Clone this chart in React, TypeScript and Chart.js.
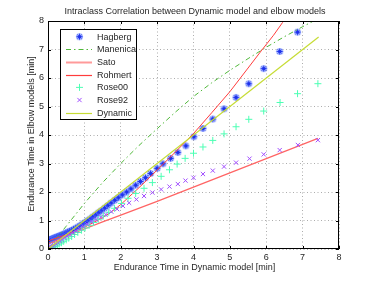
import React, { useEffect, useRef } from 'react';
import { Chart, registerables } from 'chart.js';

Chart.register(...registerables);

// ---- data ----
const axisTicks = [0, 1, 2, 3, 4, 5, 6, 7, 8];

const hagbergX = [6.86, 6.37, 5.93, 5.52, 5.17, 4.84, 4.53, 4.26, 4.01, 3.79, 3.57, 3.37, 3.16, 3.0, 2.82, 2.68, 2.54, 2.41, 2.28, 2.16, 2.04, 1.93, 1.83, 1.73, 1.64, 1.55, 1.46, 1.38, 1.3, 1.22, 1.15, 1.08, 1.01, 0.94, 0.88, 0.82, 0.76, 0.7, 0.64, 0.59, 0.54, 0.49, 0.44, 0.39, 0.35, 0.31, 0.27, 0.23, 0.19, 0.16, 0.13, 0.1, 0.07, 0.05, 0.03, 0.01];
const hagbergY = [7.61, 6.93, 6.33, 5.8, 5.32, 4.92, 4.56, 4.23, 3.94, 3.62, 3.39, 3.18, 2.99, 2.83, 2.65, 2.5, 2.37, 2.24, 2.11, 2.0, 1.9, 1.8, 1.71, 1.61, 1.52, 1.43, 1.34, 1.27, 1.19, 1.12, 1.05, 0.99, 0.93, 0.87, 0.82, 0.77, 0.73, 0.69, 0.65, 0.62, 0.59, 0.56, 0.53, 0.5, 0.48, 0.46, 0.44, 0.42, 0.4, 0.38, 0.36, 0.35, 0.33, 0.32, 0.31, 0.3];

const manenicaX = [0, 0.25, 0.5, 1, 1.5, 2, 2.5, 3, 3.5, 4, 4.5, 5, 5.5, 6, 6.5, 7, 7.3, 7.44];
const manenicaY = [0, 0.4, 0.8, 1.6, 2.33, 3.0, 3.63, 4.22, 4.8, 5.35, 5.83, 6.27, 6.68, 7.08, 7.45, 7.8, 8.0, 8.1];

const satoX = [0, 0.5, 1, 1.5, 2, 3, 4, 5, 6, 7, 7.42];
const satoY = [0.18, 0.44, 0.7, 0.95, 1.19, 1.67, 2.17, 2.67, 3.17, 3.67, 3.88];

const rohmertX = [0, 0.5, 1, 1.5, 1.7, 2, 2.5, 3, 3.5, 4, 4.5, 5, 5.5, 5.86, 6.2, 6.45, 6.8];
const rohmertY = [0.28, 0.5, 0.76, 1.1, 1.26, 1.56, 2.15, 2.77, 3.4, 4.05, 4.78, 5.52, 6.35, 6.95, 7.5, 7.95, 8.5];

const rose00X = [7.42, 6.86, 6.38, 5.93, 5.52, 5.17, 4.84, 4.53, 4.26, 4.0, 3.77, 3.55, 3.34, 3.11, 2.87, 2.64, 2.41, 2.2, 2.02, 1.83, 1.67, 1.52, 1.38, 1.25, 1.13, 1.02, 0.92, 0.82, 0.73, 0.65, 0.57, 0.5, 0.43, 0.37, 0.31, 0.26, 0.21, 0.17, 0.13, 0.09, 0.06, 0.03, 0.01];
const rose00Y = [5.8, 5.45, 5.14, 4.84, 4.55, 4.29, 4.04, 3.81, 3.58, 3.36, 3.18, 2.98, 2.78, 2.55, 2.33, 2.13, 1.95, 1.78, 1.6, 1.43, 1.29, 1.16, 1.04, 0.93, 0.83, 0.74, 0.66, 0.58, 0.51, 0.44, 0.38, 0.32, 0.27, 0.22, 0.18, 0.14, 0.1, 0.08, 0.06, 0.04, 0.03, 0.02, 0.01];

const rose92X = [7.42, 6.87, 6.37, 5.93, 5.54, 5.17, 4.84, 4.53, 4.26, 4.0, 3.78, 3.57, 3.34, 3.11, 2.87, 2.64, 2.43, 2.23, 2.06, 1.9, 1.74, 1.59, 1.45, 1.32, 1.2, 1.08, 0.97, 0.87, 0.77, 0.68, 0.6, 0.52, 0.45, 0.38, 0.32, 0.26, 0.21, 0.16, 0.12, 0.08, 0.05, 0.02, 0.0];
const rose92Y = [3.82, 3.65, 3.47, 3.32, 3.17, 3.03, 2.89, 2.75, 2.63, 2.5, 2.4, 2.28, 2.19, 2.09, 1.98, 1.86, 1.74, 1.62, 1.51, 1.4, 1.31, 1.21, 1.12, 1.03, 0.95, 0.87, 0.79, 0.72, 0.64, 0.57, 0.51, 0.45, 0.39, 0.33, 0.28, 0.23, 0.19, 0.15, 0.12, 0.09, 0.07, 0.05, 0.04];

const dynamicX = [0, 7.44];
const dynamicY = [0, 7.44];

const seriesLabels = ['Hagberg', 'Manenica', 'Sato', 'Rohmert', 'Rose00', 'Rose92', 'Dynamic'];

const chartTitle = 'Intraclass Correlation between Dynamic model and elbow models';
const xTitle = 'Endurance Time in Dynamic model [min]';
const yTitle = 'Endurance Time in Elbow models [min]';

const FONT = '"Liberation Sans", Arial, Helvetica, sans-serif';
const TEXT = '#262626';

const pts = (xs: number[], ys: number[]) => xs.map((x, i) => ({ x, y: ys[i] }));

function makeAsterisk(): HTMLCanvasElement {
  const c = document.createElement('canvas');
  c.width = 9;
  c.height = 9;
  const g = c.getContext('2d')!;
  g.fillStyle = 'rgba(95,125,255,0.55)';
  g.beginPath();
  g.arc(4.5, 4.5, 3.6, 0, Math.PI * 2);
  g.fill();
  g.strokeStyle = 'rgba(25,45,235,0.95)';
  g.lineWidth = 1;
  g.beginPath();
  g.moveTo(1.5, 4.5); g.lineTo(7.5, 4.5);
  g.moveTo(4.5, 1.5); g.lineTo(4.5, 7.5);
  g.moveTo(2.4, 2.4); g.lineTo(6.6, 6.6);
  g.moveTo(2.4, 6.6); g.lineTo(6.6, 2.4);
  g.stroke();
  return c;
}

function drawMarker(ctx: CanvasRenderingContext2D, style: any, x: number, y: number, r: number, color: string, w: number) {
  if (style instanceof HTMLCanvasElement) {
    ctx.drawImage(style, x - style.width / 2, y - style.height / 2);
    return;
  }
  ctx.save();
  ctx.strokeStyle = color;
  ctx.lineWidth = w;
  ctx.beginPath();
  if (style === 'cross') {
    ctx.moveTo(x - r, y); ctx.lineTo(x + r, y);
    ctx.moveTo(x, y - r); ctx.lineTo(x, y + r);
  }
  if (style === 'crossRot') {
    const d = r * 0.7071;
    ctx.moveTo(x - d, y - d); ctx.lineTo(x + d, y + d);
    ctx.moveTo(x - d, y + d); ctx.lineTo(x + d, y - d);
  }
  ctx.stroke();
  ctx.restore();
}

const decorPlugin = {
  id: 'decor',
  afterDatasetsDraw(chart: any) {
    const { ctx, chartArea: a, scales } = chart;
    ctx.save();
    ctx.strokeStyle = '#000';
    ctx.lineWidth = 1;
    ctx.strokeRect(a.left + 0.5, a.top + 0.5, a.right - a.left - 1, a.bottom - a.top - 1);
    ctx.beginPath();
    axisTicks.forEach((v) => {
      const px = Math.round(scales.x.getPixelForValue(v)) + 0.5;
      ctx.moveTo(px, a.bottom); ctx.lineTo(px, a.bottom - 3);
      ctx.moveTo(px, a.top); ctx.lineTo(px, a.top + 3);
      const py = Math.round(scales.y.getPixelForValue(v)) + 0.5;
      ctx.moveTo(a.left, py); ctx.lineTo(a.left + 3, py);
      ctx.moveTo(a.right, py); ctx.lineTo(a.right - 3, py);
    });
    ctx.stroke();

    // legend
    const lx = 60.5, ly = 29.5, lw = 76, lh = 90;
    ctx.fillStyle = '#fff';
    ctx.fillRect(lx, ly, lw, lh);
    ctx.strokeStyle = '#000';
    ctx.strokeRect(lx, ly, lw, lh);
    ctx.font = `9px ${FONT}`;
    ctx.textBaseline = 'middle';
    ctx.textAlign = 'left';
    chart.data.datasets.forEach((ds: any, i: number) => {
      const cy = 36.7 + i * 12.67;
      if (ds.showLine) {
        ctx.save();
        ctx.strokeStyle = ds.legendColor || ds.borderColor;
        ctx.lineWidth = ds.legendWidth || ds.borderWidth;
        ctx.setLineDash(ds.borderDash || []);
        ctx.beginPath();
        ctx.moveTo(66, Math.round(cy) + 0.5);
        ctx.lineTo(92, Math.round(cy) + 0.5);
        ctx.stroke();
        ctx.restore();
      } else {
        drawMarker(ctx, ds.pointStyle, 79.5, cy, ds.pointRadius, ds.pointBorderColor, ds.pointBorderWidth);
      }
      ctx.fillStyle = TEXT;
      ctx.fillText(ds.label, 97, cy + 0.5);
    });

    ctx.fillStyle = TEXT;
    ctx.textAlign = 'center';
    ctx.font = `9px ${FONT}`;
    ctx.fillText(chartTitle, 195, 12);
    ctx.fillText(xTitle, 194.5, 268);
    ctx.translate(32, 134);
    ctx.rotate(-Math.PI / 2);
    ctx.fillText(yTitle, 0, 0);
    ctx.restore();
  },
};

export default function App() {
  const ref = useRef<HTMLCanvasElement | null>(null);
  useEffect(() => {
    if (!ref.current) return;
    const asterisk = makeAsterisk();
    const lineDs = (label: string, xs: number[], ys: number[], color: string, width: number, order: number, dash?: number[], legendColor?: string, legendWidth?: number) => ({
      label,
      data: pts(xs, ys),
      showLine: true,
      borderColor: color,
      borderWidth: width,
      borderDash: dash || [],
      pointRadius: 0,
      pointHoverRadius: 0,
      fill: false,
      tension: 0,
      order,
      legendColor,
      legendWidth,
    });
    const markDs = (label: string, xs: number[], ys: number[], color: string, style: any, r: number, w: number, order: number) => ({
      label,
      data: pts(xs, ys),
      showLine: false,
      pointStyle: style,
      pointRadius: r,
      pointBorderColor: color,
      pointBackgroundColor: color,
      pointBorderWidth: w,
      borderColor: color,
      backgroundColor: color,
      order,
    });
    const chart = new Chart(ref.current, {
      type: 'scatter',
      data: {
        datasets: [
          markDs(seriesLabels[0], hagbergX, hagbergY, '#2846ff', asterisk, 4, 1, 7),
          lineDs(seriesLabels[1], manenicaX, manenicaY, '#50b83a', 1, 6, [5, 3, 1.5, 3]),
          lineDs(seriesLabels[2], satoX, satoY, '#ff6464', 1.2, 5, undefined, '#ff9a9a', 2),
          lineDs(seriesLabels[3], rohmertX, rohmertY, '#ff3c3c', 1, 4, undefined, '#ff3c3c', 1.2),
          markDs(seriesLabels[4], rose00X, rose00Y, '#4dffb4', 'cross', 3.5, 1, 3),
          markDs(seriesLabels[5], rose92X, rose92Y, '#a24fff', 'crossRot', 3, 1, 2),
          lineDs(seriesLabels[6], dynamicX, dynamicY, '#c6dc34', 1.2, 1),
        ] as any,
      },
      options: {
        animation: false,
        responsive: false,
        maintainAspectRatio: false,
        events: [],
        layout: { padding: { top: 21, right: 35, left: 0, bottom: 0 } },
        plugins: { legend: { display: false }, title: { display: false }, tooltip: { enabled: false } },
        scales: {
          x: {
            type: 'linear',
            min: 0,
            max: 8,
            afterFit: (s: any) => { s.height = 32; },
            afterBuildTicks: (s: any) => { s.ticks = axisTicks.map((v) => ({ value: v })); },
            ticks: { stepSize: 1, maxRotation: 0, autoSkip: false, padding: 3, color: TEXT, font: { family: FONT, size: 9 } },
            grid: { color: '#adadad', lineWidth: 1, drawTicks: false },
            border: { display: false, dash: [1, 2.5] },
          },
          y: {
            type: 'linear',
            min: 0,
            max: 8,
            afterFit: (s: any) => { s.width = 48; },
            afterBuildTicks: (s: any) => { s.ticks = axisTicks.map((v) => ({ value: v })); },
            ticks: { stepSize: 1, autoSkip: false, padding: 4, color: TEXT, font: { family: FONT, size: 9 } },
            grid: { color: '#adadad', lineWidth: 1, drawTicks: false },
            border: { display: false, dash: [1, 2.5] },
          },
        },
      } as any,
      plugins: [decorPlugin],
    });
    return () => chart.destroy();
  }, []);
  return (
    <div style={{ position: 'fixed', left: 0, top: 0, width: 374, height: 281, background: '#fff' }}>
      <canvas ref={ref} width={374} height={281} style={{ width: 374, height: 281, display: 'block' }} />
    </div>
  );
}
